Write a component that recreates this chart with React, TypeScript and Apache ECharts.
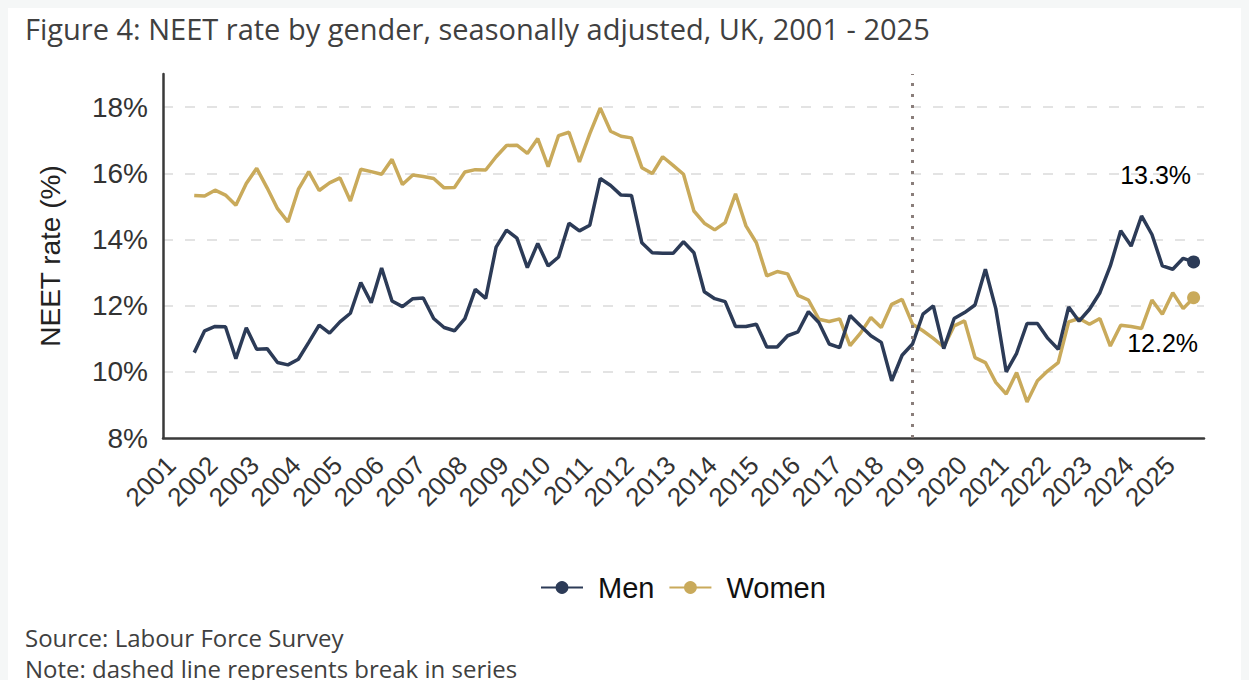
import React, { useEffect, useRef } from "react";
import * as echarts from "echarts";

// Quarterly NEET rate (%), Apr-Jun 2001 to Apr-Jun 2025
const men: number[] = [
  10.58, 11.24, 11.37, 11.36, 10.40, 11.33, 10.68, 10.70, 10.28, 10.21,
  10.38, 10.89, 11.41, 11.17, 11.51, 11.77, 12.70, 12.09, 13.14, 12.14,
  11.97, 12.21, 12.23, 11.61, 11.34, 11.24, 11.61, 12.49, 12.22, 13.77,
  14.28, 14.04, 13.15, 13.88, 13.20, 13.47, 14.49, 14.26, 14.43, 15.84,
  15.63, 15.34, 15.33, 13.90, 13.60, 13.58, 13.58, 13.93, 13.60, 12.42,
  12.21, 12.12, 11.37, 11.37, 11.44, 10.75, 10.75, 11.09, 11.21, 11.82,
  11.49, 10.84, 10.73, 11.70, 11.39, 11.09, 10.89, 9.73, 10.50, 10.84,
  11.74, 11.99, 10.70, 11.61, 11.79, 12.02, 13.10, 11.91, 10.00, 10.56,
  11.46, 11.46, 11.01, 10.68, 11.96, 11.53, 11.89, 12.39, 13.20, 14.26,
  13.80, 14.71, 14.15, 13.20, 13.10, 13.43, 13.32,
];
const women: number[] = [
  15.33, 15.31, 15.49, 15.34, 15.03, 15.69, 16.15, 15.56, 14.93, 14.53,
  15.51, 16.05, 15.48, 15.71, 15.86, 15.16, 16.12, 16.05, 15.97, 16.42,
  15.66, 15.95, 15.90, 15.84, 15.56, 15.57, 16.04, 16.11, 16.10, 16.50,
  16.84, 16.85, 16.60, 17.05, 16.20, 17.14, 17.24, 16.34, 17.20, 17.97,
  17.27, 17.12, 17.07, 16.17, 15.99, 16.50, 16.24, 15.97, 14.86, 14.49,
  14.29, 14.51, 15.38, 14.41, 13.90, 12.90, 13.03, 12.96, 12.31, 12.17,
  11.59, 11.52, 11.60, 10.79, 11.17, 11.64, 11.34, 12.04, 12.19, 11.44,
  11.24, 11.01, 10.75, 11.39, 11.54, 10.43, 10.28, 9.68, 9.33, 9.98,
  9.09, 9.73, 10.03, 10.28, 11.51, 11.61, 11.44, 11.61, 10.78, 11.41,
  11.37, 11.31, 12.17, 11.74, 12.39, 11.91, 12.24,
];

// Axis runs from 2000 Q3 to 2025 Q3; data from 2001 Q2 to 2025 Q2
const axisStart = { year: 2000, quarter: 3 };
const axisQuarterCount = 101;
const firstDataIndex = 3;
const breakQuarter = "2018 Q3";
const yTicks = { min: 8, max: 19, interval: 2 };

const categories: string[] = [];
for (let i = 0; i < axisQuarterCount; i++) {
  const q0 = axisStart.quarter - 1 + i;
  const y = axisStart.year + Math.floor(q0 / 4);
  const q = (q0 % 4) + 1;
  categories.push(`${y} Q${q}`);
}

const MEN_COLOR = "#2c3b57";
const WOMEN_COLOR = "#c9aa5b";

function buildSeriesData(values: number[], labelOffset: [number, number]) {
  const arr: any[] = categories.map(() => null);
  values.forEach((v, i) => {
    const last = i === values.length - 1;
    arr[firstDataIndex + i] = last
      ? {
          value: v,
          symbolSize: 13,
          label: {
            show: true,
            position: "inside",
            offset: labelOffset,
            formatter: (p: any) => `${Number(p.value).toFixed(1)}%`,
            fontSize: 25,
            color: "#000",
            fontFamily: "Liberation Sans, Arial, sans-serif",
          },
        }
      : v;
  });
  return arr;
}

export default function App() {
  const ref = useRef<HTMLDivElement>(null);
  useEffect(() => {
    document.body.style.background = "#f5f7f7";
    document.body.style.overflow = "hidden";
    if (!ref.current) return;
    const chart = echarts.init(ref.current, undefined, { renderer: "svg" });
    const axisFont = "Liberation Sans, Arial, sans-serif";
    chart.setOption({
      animation: false,
      backgroundColor: "#ffffff",
      title: {
        text: "Figure 4: NEET rate by gender, seasonally adjusted, UK, 2001 - 2025",
        left: 12,
        top: 1,
        textStyle: {
          fontSize: 29,
          fontWeight: "normal",
          color: "#404040",
          fontFamily: "Open Sans, sans-serif",
        },
      },
      grid: { left: 155, right: 45, top: 66, height: 364 },
      legend: {
        left: 527,
        top: 560,
        itemWidth: 42,
        itemHeight: 16,
        itemGap: 14,
        data: ["Men", "Women"],
        textStyle: {
          fontSize: 29,
          color: "#111",
          fontFamily: axisFont,
          padding: [0, 0, 0, 10],
        },
      },
      xAxis: {
        type: "category",
        data: categories,
        boundaryGap: false,
        axisLine: { lineStyle: { color: "#3a3a3a", width: 2.5 } },
        axisTick: { show: false },
        splitLine: { show: false },
        axisLabel: {
          interval: (index: number) => index % 4 === 2,
          formatter: (v: string) => v.slice(0, 4),
          rotate: 45,
          margin: 10,
          padding: [0, 18, 0, 0],
          fontSize: 26,
          color: "#333",
          fontFamily: axisFont,
        },
      },
      yAxis: {
        type: "value",
        min: yTicks.min,
        max: yTicks.max,
        interval: yTicks.interval,
        name: "NEET rate (%)",
        nameLocation: "middle",
        nameGap: 99,
        nameTextStyle: { fontSize: 28, color: "#222", fontFamily: axisFont },
        axisLine: { show: true, lineStyle: { color: "#3a3a3a", width: 2.5 } },
        axisTick: { show: false },
        axisLabel: {
          showMaxLabel: false,
          margin: 15,
          fontSize: 28,
          color: "#333",
          fontFamily: axisFont,
          formatter: (v: number) => (v === yTicks.max ? "" : `${v}%`),
        },
        splitLine: {
          show: true,
          showMinLine: false,
          showMaxLine: false,
          lineStyle: { color: "#e3e3e3", width: 2, type: [10, 12] },
        },
      },
      series: [
        {
          name: "Men",
          type: "line",
          data: buildSeriesData(men, [-38, -87]),
          color: MEN_COLOR,
          symbol: "circle",
          symbolSize: 0,
          showSymbol: true,
          lineStyle: { width: 3.5, color: MEN_COLOR },
          itemStyle: { color: MEN_COLOR },
          z: 3,
          markLine: {
            silent: true,
            symbol: ["none", "none"],
            label: { show: false },
            lineStyle: { color: "#8a7e7b", width: 3, type: [3, 8] },
            data: [{ xAxis: breakQuarter }],
          },
        },
        {
          name: "Women",
          type: "line",
          data: buildSeriesData(women, [-31, 45]),
          color: WOMEN_COLOR,
          symbol: "circle",
          symbolSize: 0,
          showSymbol: true,
          lineStyle: { width: 3.5, color: WOMEN_COLOR },
          itemStyle: { color: WOMEN_COLOR },
          z: 2,
        },
      ],
      graphic: [
        {
          type: "text",
          left: 17,
          top: 617,
          style: {
            text: "Source: Labour Force Survey",
            fontSize: 24,
            fill: "#404040",
            fontFamily: "Open Sans, sans-serif",
          },
        },
        {
          type: "text",
          left: 17,
          top: 648,
          style: {
            text: "Note: dashed line represents break in series",
            fontSize: 24,
            fill: "#404040",
            fontFamily: "Open Sans, sans-serif",
          },
        },
      ],
    });
    return () => chart.dispose();
  }, []);
  return (
    <div
      ref={ref}
      style={{ width: 1241, height: 672, background: "#ffffff" }}
    />
  );
}
